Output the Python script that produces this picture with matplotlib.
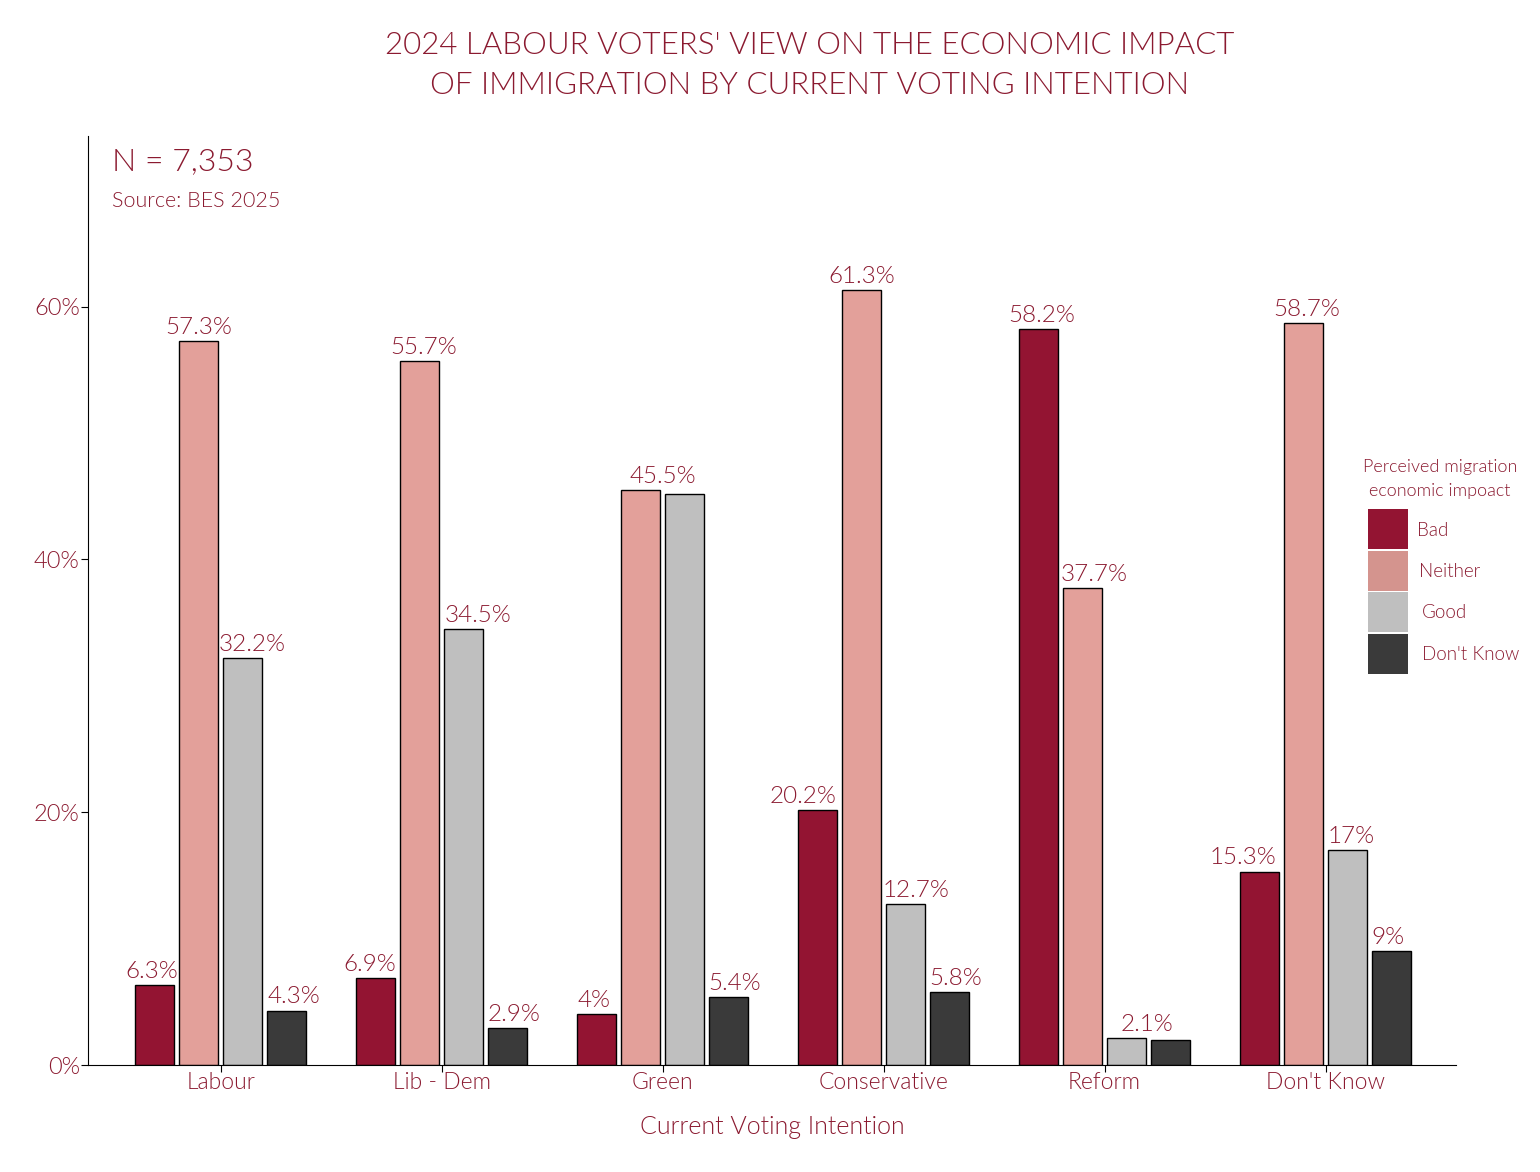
import numpy as np
import matplotlib.pyplot as plt
from matplotlib.patches import Rectangle

plt.rcParams['font.family'] = ['Lato', 'DejaVu Sans']
plt.rcParams['font.weight'] = 300
plt.rcParams['axes.labelweight'] = 300

# data
groups = ["Labour", "Lib - Dem", "Green", "Conservative", "Reform", "Don't Know"]
responses = ["Bad", "Neither", "Good", "Don't Know"]
bad = [6.3, 6.9, 4.0, 20.2, 58.2, 15.3]
neither = [57.3, 55.7, 45.5, 61.3, 37.7, 58.7]
good = [32.2, 34.5, 45.2, 12.7, 2.1, 17.0]
dont_know = [4.3, 2.9, 5.4, 5.8, 2.0, 9.0]
# which values carry a label in the original
show_label = [
    [True, True, True, True, True, True],
    [True, True, True, True, True, True],
    [True, True, False, True, True, True],
    [True, True, True, True, False, True],
]

colors = ["#931432", "#E3A09A", "#BFBFBF", "#3A3A3A"]
legend_colors = ["#931432", "#D4948E", "#BFBFBF", "#3A3A3A"]
TXT = "#8B1A30"

series = [bad, neither, good, dont_know]
x = np.arange(len(groups))
offsets = [-0.3, -0.1, 0.1, 0.3]
width = 0.177

# horizontal shift of each value label, in pixels (hand placed in the original)
label_shift_px = [
    [-3, -6, -2, -14, 3, -16],
    [0, 4, 22, 0, 12, 3],
    [9, 14, 0, 10, 20, 3],
    [7, 6, 6, 6, 0, -4],
]
PX = 1 / 221.0  # data units per pixel on the x axis

W, H = 1540, 1172
fig = plt.figure(figsize=(W / 100, H / 100), dpi=100)
ax = fig.add_axes([88 / W, 1 - 1065 / H, (1456 - 88) / W, (1065 - 136) / H])

for i, vals in enumerate(series):
    ax.bar(x + offsets[i], vals, width, color=colors[i], edgecolor="black", linewidth=1)
    for j, v in enumerate(vals):
        if not show_label[i][j]:
            continue
        ax.text(x[j] + offsets[i] + label_shift_px[i][j] * PX, v + 0.25, f"{v:g}%",
                ha="center", va="bottom", color=TXT, fontsize=17.5)

ax.set_xlim(-0.6, 5.59)
ax.set_ylim(0, 73.5)
ax.set_yticks([0, 20, 40, 60])
ax.set_yticklabels(["0%", "20%", "40%", "60%"])
ax.set_xticks(x)
ax.set_xticklabels(groups)
ax.tick_params(axis="both", colors="black", labelcolor=TXT, labelsize=17, length=5, pad=1)
ax.tick_params(axis="x", pad=0, labelsize=16.5)
ax.spines["top"].set_visible(False)
ax.spines["right"].set_visible(False)
ax.set_xlabel("Current Voting Intention", color=TXT, fontsize=18, labelpad=16)

fig.text(112 / W, 1 - 162 / H, "N = 7,353", color=TXT, fontsize=23, va="center", ha="left")
fig.text(112 / W, 1 - 201 / H, "Source: BES 2025", color=TXT, fontsize=15.5, va="center", ha="left")

fig.text(810 / W, 1 - 46 / H, "2024 LABOUR VOTERS' VIEW ON THE ECONOMIC IMPACT",
         color=TXT, fontsize=22.5, ha="center", va="center")
fig.text(810 / W, 1 - 86 / H, "OF IMMIGRATION BY CURRENT VOTING INTENTION",
         color=TXT, fontsize=22.5, ha="center", va="center")

# legend drawn by hand: contiguous square swatches
fig.text(1440 / W, 1 - 467 / H, "Perceived migration", color=TXT, fontsize=13,
         ha="center", va="center")
fig.text(1440 / W, 1 - 491 / H, "economic impoact", color=TXT, fontsize=13,
         ha="center", va="center")
sw_top = [509, 551, 592, 634]
lab_x = [1417, 1419, 1422, 1422]
for k, (c, r) in enumerate(zip(legend_colors, responses)):
    fig.patches.append(Rectangle((1368 / W, 1 - (sw_top[k] + 40) / H), 40 / W, 40 / H,
                                 transform=fig.transFigure, facecolor=c, edgecolor="none"))
    fig.text(lab_x[k] / W, 1 - (sw_top[k] + 21) / H, r, color=TXT, fontsize=13.5,
             ha="left", va="center")

fig.savefig("out.png", dpi=100)
